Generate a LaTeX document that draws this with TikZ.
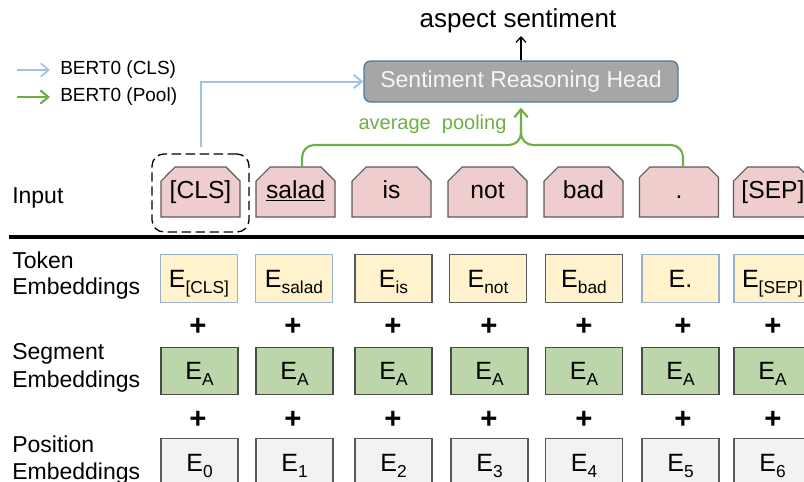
\documentclass[tikz,border=0pt]{standalone}
\usepackage{fontspec}
\setmainfont{Liberation Sans}
\usetikzlibrary{shapes.misc,arrows.meta}
\definecolor{inpfill}{HTML}{EFCDCD}
\definecolor{inpdraw}{HTML}{5A5A5A}
\definecolor{tokfill}{HTML}{FFF2CC}
\definecolor{tokblue}{HTML}{9BB0C9}
\definecolor{tokgray}{HTML}{5A5A5A}
\definecolor{segfill}{HTML}{BCD6A9}
\definecolor{segdraw}{HTML}{4A4A4A}
\definecolor{posfill}{HTML}{F2F2F2}
\definecolor{posdraw}{HTML}{5A5A5A}
\definecolor{headfill}{HTML}{A6A6A6}
\definecolor{headdraw}{HTML}{4A78A8}
\definecolor{headtext}{HTML}{F5F5F5}
\definecolor{clsblue}{HTML}{9DC3E6}
\definecolor{poolgreen}{HTML}{6DAF45}
\newcommand\sbx[1]{\raisebox{-4.5pt}{\fontsize{13pt}{14pt}\selectfont #1}}
\begin{document}
\begin{tikzpicture}[x=0.75pt,y=-0.75pt,
  font=\fontsize{17.25pt}{20pt}\selectfont,
  inp/.style={chamfered rectangle, chamfered rectangle corners={north west,north east},
    chamfered rectangle xsep=5.25pt, chamfered rectangle ysep=5.25pt,
    draw=inpdraw, fill=inpfill, line width=0.8pt, minimum width=59.25pt,
    minimum height=37.5pt, inner sep=0pt, text height=13.2pt, text depth=3.8pt,
    font=\fontsize{18.5pt}{21pt}\selectfont},
  emb/.style={line width=0.8pt, minimum width=57.75pt, minimum height=35.5pt,
    inner sep=0pt, text height=13.4pt, text depth=0pt, font=\fontsize{18.75pt}{21pt}\selectfont},
  tokb/.style={emb, draw=tokblue, fill=tokfill},
  tokg/.style={emb, draw=tokgray, fill=tokfill},
  segbox/.style={emb, draw=segdraw, fill=segfill},
  posbox/.style={emb, draw=posdraw, fill=posfill},
  plus/.style={font=\fontsize{22pt}{24pt}\selectfont\bfseries, inner sep=0pt},
  rowlab/.style={anchor=base west, inner sep=0pt},
  arrowtip/.style={-{Straight Barb[length=6pt,width=10pt]}},
  blueline/.style={draw=clsblue, line width=1.5pt, arrowtip},
  greenline/.style={draw=poolgreen, line width=1.6pt}
]
\useasboundingbox (0,0) rectangle (804,482);

% legend
\coordinate (lgb) at (17,70);
\coordinate (lgg) at (17,97);
\node[anchor=west, inner sep=0pt, font=\fontsize{14.25pt}{16pt}\selectfont] (lgbt) at (60,70) {BERT0 (CLS)};
\node[anchor=west, inner sep=0pt, font=\fontsize{14.25pt}{16pt}\selectfont] (lggt) at (60,97) {BERT0 (Pool)};
\draw[blueline, line width=1.2pt] (lgb) -- ([xshift=-7.5pt]lgbt.west);
\draw[greenline, arrowtip] (lgg) -- ([xshift=-7.5pt]lggt.west);

% head
\node[draw=headdraw, fill=headfill, line width=1pt, rounded corners=5pt,
  minimum width=235.5pt, minimum height=30.75pt, text=headtext, inner sep=0pt] (head) at (521,81.5) {Sentiment Reasoning Head};
\node[font=\fontsize{19.5pt}{22pt}\selectfont, inner sep=2pt] (out) at (518,21) {aspect sentiment};
\draw[line width=1pt, -{Straight Barb[length=4pt,width=7.5pt]}] (head.north) -- (head.north |- out.south);

% input row
\node[rowlab] (inlab) at (12,203) {Input};
\node[inp] (i0) at (200.5,192) {[CLS]};
\node[inp] (i1) at (295.5,192) {\underline{salad}};
\node[inp] (i2) at (391.5,192) {is};
\node[inp] (i3) at (487.5,192) {not};
\node[inp] (i4) at (583.5,192) {bad};
\node[inp] (i5) at (679,192) {.};
\node[inp] (i6) at (773,192) {[SEP]};

\node[draw, dash pattern=on 7pt off 3.5pt, line width=1pt, rounded corners=9pt,
  minimum width=72.75pt, minimum height=58.5pt, inner sep=0pt] (clsbox) at (200.5,193) {};

\draw[blueline, shorten <=4.5pt] (clsbox.north) |- (head.west);

% average pooling
\node[text=poolgreen, font=\fontsize{15pt}{17pt}\selectfont, inner sep=0pt] (avg) at (432.5,124) {average\ \ pooling};
\coordinate (jn) at (521,145);
\draw[greenline, rounded corners=9pt] ([xshift=5pt]i1.north) |- (jn) -- (521,125);
\draw[greenline, rounded corners=9pt, arrowtip] ([xshift=3pt]i5.north) |- (jn) -- ([yshift=-3.75pt]head.south);

% separator
\coordinate (sepl) at (9,237);
\coordinate (sepr) at (810,237);
\draw[line width=3pt] (sepl) -- (sepr);

% row labels
\node[rowlab] (tl1) at (12,268) {Token};
\node[rowlab] (tl2) at (12,294) {Embeddings};
\node[rowlab] (sl1) at (12,359) {Segment};
\node[rowlab] (sl2) at (12,387) {Embeddings};
\node[rowlab] (pl1) at (12,452) {Position};
\node[rowlab] (pl2) at (12,479) {Embeddings};

% token embeddings
\node[tokb] (t0) at (199,278.5) {E\sbx{[CLS]}};
\node[tokb] (t1) at (294,278.5) {E\sbx{salad}};
\node[tokg] (t2) at (393.5,278.5) {E\sbx{is}};
\node[tokg] (t3) at (488,278.5) {E\sbx{not}};
\node[tokg] (t4) at (584,278.5) {E\sbx{bad}};
\node[tokb] (t5) at (680.5,278.5) {E.};
\node[tokb] (t6) at (772.5,278.5) {E\sbx{[SEP]}};

% segment embeddings
\node[segbox] (s0) at (199.5,371) {E\sbx{A}};
\node[segbox] (s1) at (294.5,371) {E\sbx{A}};
\node[segbox] (s2) at (393.5,371) {E\sbx{A}};
\node[segbox] (s3) at (489.5,371) {E\sbx{A}};
\node[segbox] (s4) at (584,371) {E\sbx{A}};
\node[segbox] (s5) at (680.5,371) {E\sbx{A}};
\node[segbox] (s6) at (772.5,371) {E\sbx{A}};

% position embeddings
\node[posbox] (p0) at (199.5,462.5) {E\sbx{0}};
\node[posbox] (p1) at (294.5,462.5) {E\sbx{1}};
\node[posbox] (p2) at (393.5,462.5) {E\sbx{2}};
\node[posbox] (p3) at (489.5,462.5) {E\sbx{3}};
\node[posbox] (p4) at (584,462.5) {E\sbx{4}};
\node[posbox] (p5) at (680.5,462.5) {E\sbx{5}};
\node[posbox] (p6) at (772.5,462.5) {E\sbx{6}};

% plus signs
\foreach \k/\x in {0/198,1/293,2/393,3/489,4/584,5/683,6/773}{
  \node[plus] (pa\k) at (\x,327) {+};
  \node[plus] (pb\k) at (\x,420) {+};
}
\end{tikzpicture}
\end{document}
